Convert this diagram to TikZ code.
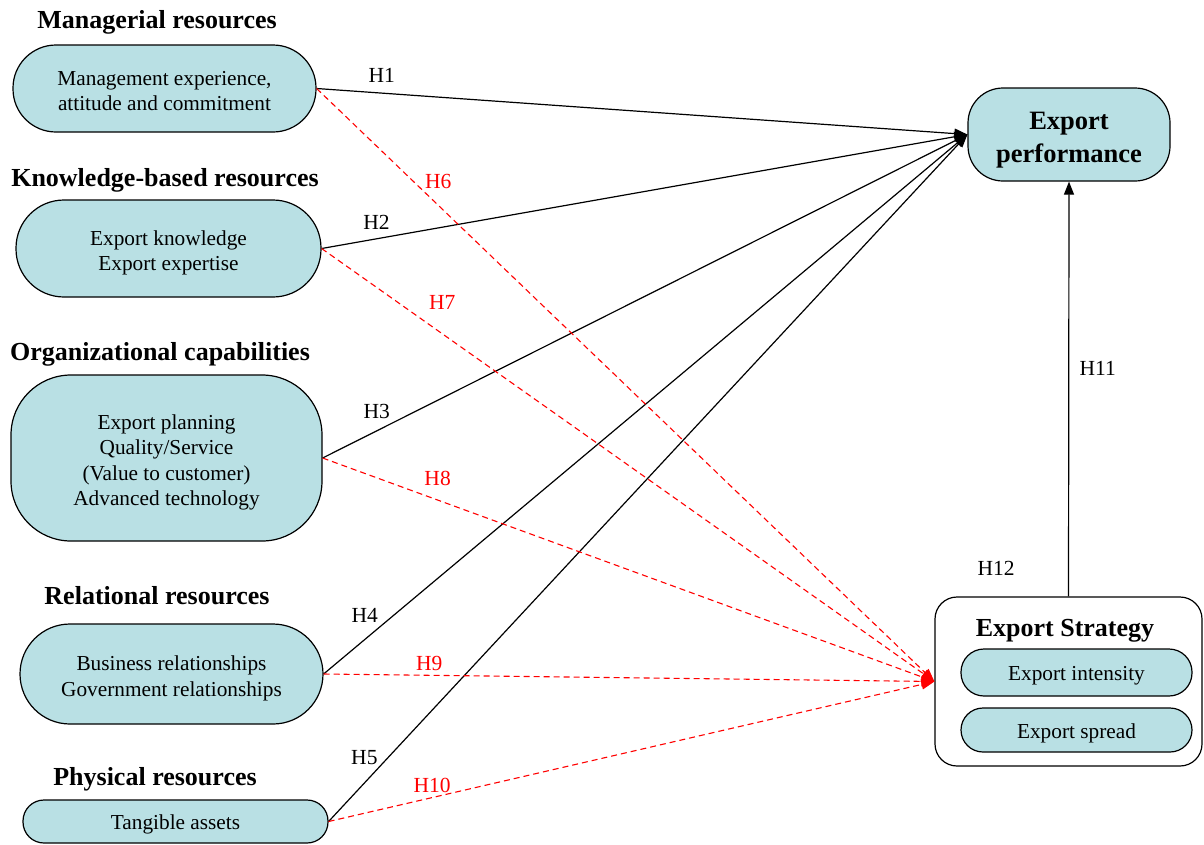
\documentclass[tikz,border=0pt]{standalone}
\usepackage{fontspec}
\setmainfont{Liberation Serif}
\usetikzlibrary{arrows.meta}
\definecolor{cajafondo}{RGB}{185,224,228}
\newcommand{\lineas}[1]{\raisebox{0pt}[\dimexpr\height+9pt\relax][\depth]{\begin{tabular}{@{}c@{}}#1\end{tabular}}}

\begin{document}
\begin{tikzpicture}[x=1pt,y=-1pt,
  recurso/.style={draw,line width=1.2pt,fill=cajafondo,inner sep=0pt,
    font=\fontsize{21.3}{25.5}\selectfont,execute at begin node={\rule{0pt}{21pt}}},
  titulo/.style={font=\bfseries\fontsize{26}{30}\selectfont},
  etiqueta/.style={font=\fontsize{21.5}{24}\selectfont},
  flecha/.style={line width=1.2pt,-{Triangle[length=13pt,width=10pt]}},
  flecharoja/.style={red,line width=1.1pt,dash pattern=on 6pt off 4pt,
    -{Triangle[length=13pt,width=10pt]}}]
  \useasboundingbox (0,0) rectangle (1204,844);

  % Recursos (izquierda)
  \node[titulo] (tit1) at (157,22) {Managerial resources};
  \node[recurso,minimum width=303pt,minimum height=87pt,rounded corners=43pt] (rec1)
    at (164.5,88.5) {\lineas{Management experience,\\attitude and commitment}};
  \node[titulo] (tit2) at (165,180) {Knowledge-based resources};
  \node[recurso,minimum width=305pt,minimum height=97pt,rounded corners=48pt] (rec2)
    at (168.5,248.5) {\lineas{Export knowledge\\Export expertise}};
  \node[titulo] (tit3) at (160,354) {Organizational capabilities};
  \node[recurso,minimum width=311pt,minimum height=166pt,rounded corners=60pt] (rec3)
    at (166.5,458) {\lineas{Export planning\\Quality/Service\\(Value to customer)\\Advanced technology}};
  \node[titulo] (tit4) at (157,596) {Relational resources};
  \node[recurso,minimum width=303pt,minimum height=100pt,rounded corners=50pt] (rec4)
    at (171.5,674) {\lineas{Business relationships\\Government relationships}};
  \node[titulo] (tit5) at (155,779) {Physical resources};
  \node[recurso,minimum width=305pt,minimum height=43pt,rounded corners=21pt] (rec5)
    at (175.5,821.5) {Tangible assets};

  % Resultados (derecha)
  \node[recurso,minimum width=202pt,minimum height=93pt,rounded corners=35pt,
    font=\bfseries\fontsize{26.5}{33}\selectfont] (desempeno)
    at (1069,134.5) {\lineas{Export\\performance}};
  \node[draw,line width=1.2pt,fill=white,minimum width=267pt,minimum height=169pt,
    rounded corners=22pt,inner sep=0pt] (estrategia) at (1068.5,681.5) {};
  \node[titulo] (tit6) at (1065,631) {Export Strategy};
  \node[recurso,minimum width=231pt,minimum height=47pt,rounded corners=23pt] (intensidad)
    at (1076.5,672.5) {Export intensity};
  \node[recurso,minimum width=231pt,minimum height=44pt,rounded corners=22pt] (difusion)
    at (1076.5,730) {Export spread};
  \node[etiqueta] (h12) at (996,568) {H12};

  % Hipotesis H1-H5
  \draw[flecha] (rec1.east) -- (desempeno.west) node[etiqueta,pos=0.1,yshift=18pt] {H1};
  \draw[flecha] (rec2.east) -- (desempeno.west) node[etiqueta,pos=0.085,yshift=16pt] {H2};
  \draw[flecha] (rec3.east) -- (desempeno.west) node[etiqueta,pos=0.084,yshift=19pt] {H3};
  \draw[flecha] (rec4.east) -- (desempeno.west) node[etiqueta,pos=0.064,yshift=24pt] {H4};
  \draw[flecha] (rec5.east) -- (desempeno.west) node[etiqueta,pos=0.056,yshift=25pt] {H5};

  % Hipotesis H6-H10
  \draw[flecharoja] (rec1.east) -- (estrategia.west)
    node[etiqueta,red,pos=0.197,yshift=24pt] {H6};
  \draw[flecharoja] (rec2.east) -- (estrategia.west)
    node[etiqueta,red,pos=0.197,yshift=31pt] {H7};
  \draw[flecharoja] (rec3.east) -- (estrategia.west)
    node[etiqueta,red,pos=0.188,yshift=22pt] {H8};
  \draw[flecharoja] (rec4.east) -- (estrategia.west)
    node[etiqueta,red,pos=0.173,yshift=12pt] {H9};
  \draw[flecharoja] (rec5.east) -- (estrategia.west)
    node[etiqueta,red,pos=0.171,yshift=12pt] {H10};

  % H11
  \draw[flecha] (estrategia.north) -- (desempeno.south)
    node[etiqueta,pos=0.55,xshift=29pt] {H11};
\end{tikzpicture}
\end{document}
